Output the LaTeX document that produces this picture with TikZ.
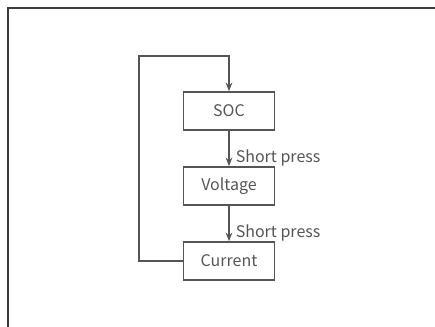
\documentclass[tikz,border=0pt]{standalone}
\usepackage{fontspec}
\setmainfont{Noto Sans CJK SC}
\usepackage{tikz}
\usetikzlibrary{arrows.meta}
\definecolor{linegray}{HTML}{555555}
\definecolor{framegray}{HTML}{3C3C3C}
\tikzset{
  modebox/.style={draw=linegray,line width=1.2pt,minimum width=68pt,minimum height=28.5pt,
    inner sep=0pt,text=linegray,font=\fontsize{12}{14}\selectfont},
  flow/.style={draw=linegray,line width=1.2pt,-{Stealth[length=6.5pt,width=5pt]}},
  presslabel/.style={right,text=linegray,inner sep=0pt,xshift=4.5pt,font=\fontsize{12}{14}\selectfont}
}
\begin{document}
\begin{tikzpicture}[x=0.75pt,y=0.75pt]
    \useasboundingbox (0,0) rectangle (435,-327);
    % page frame
    \draw[framegray,line width=0.8pt] (8,-327) -- (8,-8) -- (435,-8);

    \node[modebox] (soc) at (229,-111) {SOC};
    \node[modebox] (volt) at (229,-186) {Voltage};
    \node[modebox] (cur) at (229,-261) {Current};
    \coordinate (loopcorner) at (139,-56);

    \draw[flow] (soc) -- node[presslabel,pos=0.76] {Short press} (volt);
    \draw[flow] (volt) -- node[presslabel,pos=0.76] {Short press} (cur);
    \draw[flow] (cur.west) -| (loopcorner) -| (soc.north);
\end{tikzpicture}
\end{document}
